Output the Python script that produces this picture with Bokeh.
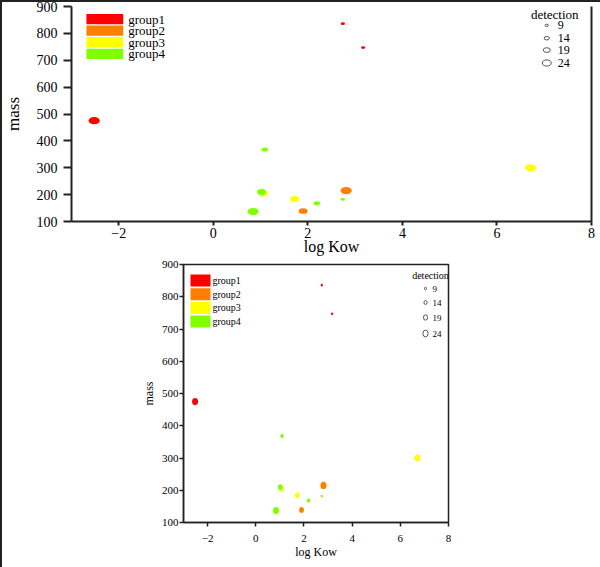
from bokeh.plotting import figure
from bokeh.models import Range1d, FixedTicker, LinearAxis, ColumnDataSource, Spacer
from bokeh.layouts import column, row
from bokeh.core.properties import value
from bokeh.embed import file_html
from bokeh.resources import INLINE

# ---------------- data ----------------
group_names = ["group1", "group2", "group3", "group4"]
group_colors = ["#FF0000", "#FF8000", "#FFFF00", "#80FF00"]

log_kow = [-2.52, 2.74, 3.17, 1.09, 6.71, 2.81, 1.06, 1.02, 1.72, 2.19, 2.74, 0.84, 1.90]
mass = [475, 836, 747, 368, 300, 215, 204, 210, 184, 168, 182, 137, 139]
group = [1, 1, 1, 4, 3, 2, 3, 4, 3, 4, 4, 4, 2]
detection = [24, 9, 9, 14, 24, 24, 19, 19, 19, 14, 9, 24, 19]

legend_detection = [9, 14, 19, 24]
x_ticks = [-2, 0, 2, 4, 6, 8]
y_ticks = [100, 200, 300, 400, 500, 600, 700, 800, 900]

FONT = "Liberation Serif"
INK = "#222222"


def build(c):
    fw, fh = c["fw"], c["fh"]
    p = figure(width=c["width"], height=c["height"],
               x_range=Range1d(-3, 8), y_range=Range1d(100, 900),
               output_backend="svg", toolbar_location=None,
               min_border_left=c["bl"], min_border_right=c["br"],
               min_border_top=c["bt"], min_border_bottom=c["bb"])
    p.extra_x_ranges = {"px": Range1d(0, fw)}
    p.extra_y_ranges = {"py": Range1d(0, fh)}
    p.border_fill_color = None
    p.background_fill_color = "white"
    p.grid.visible = False
    if c["outline"]:
        p.outline_line_color = INK
        p.outline_line_width = c["lw"]
    else:
        p.outline_line_color = None
        ra = LinearAxis(ticker=FixedTicker(ticks=[]), axis_line_color=INK,
                        axis_line_width=c["lw"], major_tick_line_color=None,
                        minor_tick_line_color=None)
        p.add_layout(ra, "right")

    for ax, ticks, tout, stand in ((p.xaxis[0], x_ticks, c["xtick"], c["xstand"]),
                                   (p.yaxis[0], y_ticks, c["ytick"], c["ystand"])):
        ax.ticker = FixedTicker(ticks=ticks)
        ax.axis_line_color = INK
        ax.axis_line_width = c["lw"]
        ax.major_tick_line_color = INK
        ax.major_tick_line_width = c["lw"]
        ax.major_tick_out = tout
        ax.major_tick_in = 0
        ax.minor_tick_line_color = None
        ax.major_label_text_font = FONT
        ax.major_label_text_font_size = c["tick_fs"]
        ax.major_label_text_color = "black"
        ax.major_label_standoff = stand
        ax.axis_label_text_font = FONT
        ax.axis_label_text_font_style = "normal"
        ax.axis_label_text_color = "black"

    p.yaxis[0].axis_label = "mass"
    p.yaxis[0].axis_label_text_font_size = c["ylab_fs"]
    p.yaxis[0].axis_label_standoff = c["ylab_stand"]
    p.xaxis[0].axis_label = "log Kow"
    p.xaxis[0].axis_label_text_font_size = c["xlab_fs"]
    p.xaxis[0].axis_label_standoff = c["xlab_stand"]

    # data points
    src = ColumnDataSource(dict(
        x=log_kow, y=mass,
        w=[d * c["kw"] for d in detection],
        h=[d * c["kh"] for d in detection],
        col=[group_colors[g - 1] for g in group],
    ))
    p.ellipse(x="x", y="y", width="w", height="h", width_units="screen",
              height_units="screen", fill_color="col", line_color=None, source=src)

    # group legend (colour patches)
    gx0, gx1 = c["gx"]
    tops = [c["gtop"] - c["gpitch"] * i for i in range(4)]
    gsrc = ColumnDataSource(dict(
        x=[(gx0 + gx1) / 2] * 4,
        y=[t - c["gh"] / 2 for t in tops],
        col=group_colors, lab=group_names,
        tx=[c["gtx"]] * 4,
    ))
    p.rect(x="x", y="y", width=gx1 - gx0, height=c["gh"], fill_color="col",
           line_color=None, source=gsrc, x_range_name="px", y_range_name="py")
    p.text(x="tx", y="y", text="lab", source=gsrc, x_range_name="px", y_range_name="py",
           text_font=value(FONT), text_font_size=c["leg_fs"], text_baseline="middle",
           text_color="black")

    # detection legend
    dsrc = ColumnDataSource(dict(
        x=[c["dcx"]] * 4, y=c["dys"],
        w=[d * c["lkw"] for d in legend_detection],
        h=[d * c["lkh"] for d in legend_detection],
        tx=[c["dtx"]] * 4, lab=[str(d) for d in legend_detection],
    ))
    p.ellipse(x="x", y="y", width="w", height="h", width_units="screen",
              height_units="screen", fill_color=None, line_color="#555555",
              line_width=1, source=dsrc, x_range_name="px", y_range_name="py")
    p.text(x="tx", y="y", text="lab", source=dsrc, x_range_name="px", y_range_name="py",
           text_font=value(FONT), text_font_size=c["dleg_fs"], text_baseline="middle",
           text_color="black")
    tsrc = ColumnDataSource(dict(x=[c["dtitle"][0]], y=[c["dtitle"][1]], t=["detection"]))
    p.text(x="x", y="y", text="t", source=tsrc, x_range_name="px", y_range_name="py",
           text_font=value(FONT), text_font_size=c["dtitle_fs"], text_baseline="middle",
           text_align="center", text_color="black")
    return p


top_cfg = dict(width=600, height=257, bl=68, br=9, bt=6, bb=34, fw=523, fh=217,
               outline=False, lw=2, xtick=4, ytick=8, xstand=2, ystand=6,
               tick_fs="14px", ylab_fs="17px", ylab_stand=11,
               xlab_fs="16px", xlab_stand=-3,
               kw=0.47, kh=0.3,
               gx=(15, 52), gtop=209.5, gpitch=11.7, gh=10.4, gtx=57, leg_fs="13px",
               dcx=478, dys=[198, 185, 173, 160], dtx=489, lkw=0.37, lkh=0.25,
               dleg_fs="12px", dtitle=(486, 209), dtitle_fs="13px")

bot_cfg = dict(width=330, height=310, bl=53, br=12, bt=7, bb=45, fw=265, fh=258,
               outline=True, lw=1.5, xtick=4, ytick=4, xstand=8, ystand=1,
               tick_fs="11px", ylab_fs="12px", ylab_stand=3,
               xlab_fs="12px", xlab_stand=0,
               kw=0.25, kh=0.3,
               gx=(7, 27), gtop=248, gpitch=13.7, gh=12, gtx=29, leg_fs="10px",
               dcx=242, dys=[234, 220, 205, 189], dtx=249, lkw=0.22, lkh=0.28,
               dleg_fs="9px", dtitle=(247, 247), dtitle_fs="10px")

p_top = build(top_cfg)
p_bot = build(bot_cfg)

layout = column(p_top, row(Spacer(width=130, height=310), p_bot),
                styles={"box-shadow": "inset 2px 2px 0 0 #222222", "background": "white"})

open("out.html", "w").write(file_html(layout, INLINE))
